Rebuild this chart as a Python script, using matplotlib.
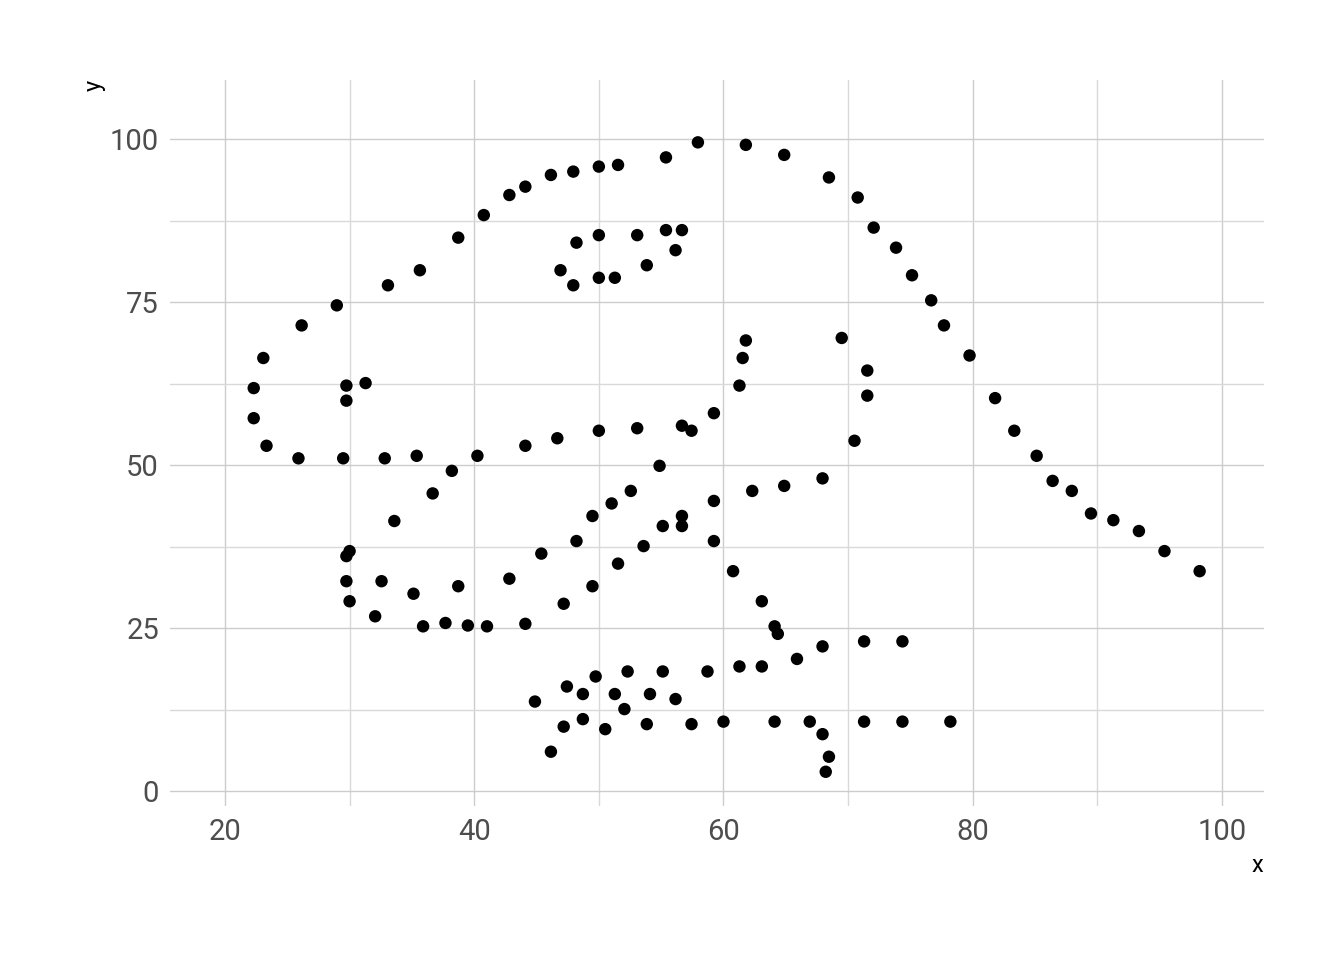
import matplotlib
matplotlib.use("Agg")
import matplotlib.pyplot as plt
import numpy as np

x = [55.3846, 51.5385, 46.1538, 42.8205, 40.7692, 38.7179, 35.641, 33.0769, 28.9744, 26.1538,
     23.0769, 22.3077, 22.3077, 23.3333, 25.8974, 29.4872, 32.8205, 35.3846, 40.2564, 44.1026,
     46.6667, 50.0, 53.0769, 56.6667, 59.2308, 61.2821, 61.5385, 61.7949, 57.4359, 54.8718,
     52.5641, 48.2051, 49.4872, 51.0256, 45.3846, 42.8205, 38.7179, 35.1282, 32.5641, 30.0,
     33.5897, 36.6667, 38.2051, 29.7436, 29.7436, 30.0, 32.0513, 35.8974, 41.0256, 44.1026,
     47.1795, 49.4872, 51.5385, 53.5897, 55.1282, 56.6667, 59.2308, 62.3077, 64.8718, 67.9487,
     70.5128, 71.5385, 71.5385, 69.4872, 46.9231, 48.2051, 50.0, 53.0769, 55.3846, 56.6667,
     56.1538, 53.8462, 51.2821, 50.0, 47.9487, 29.7436, 29.7436, 31.2821, 57.9487, 61.7949,
     64.8718, 68.4615, 70.7692, 72.0513, 73.8462, 75.1282, 76.6667, 77.6923, 79.7436, 81.7949,
     83.3333, 85.1282, 86.4103, 87.9487, 89.4872, 93.3333, 95.3846, 98.2051, 56.6667, 59.2308,
     60.7692, 63.0769, 64.1026, 64.359, 74.359, 71.2821, 67.9487, 65.8974, 63.0769, 61.2821,
     58.7179, 55.1282, 52.3077, 49.7436, 47.4359, 44.8718, 48.7179, 51.2821, 54.1026, 56.1538,
     52.0513, 48.7179, 47.1795, 46.1538, 50.5128, 53.8462, 57.4359, 60.0, 64.1026, 66.9231,
     71.2821, 74.359, 78.2051, 67.9487, 68.4615, 68.2051, 37.6923, 39.4872, 91.2821, 50.0,
     47.9487, 44.1026]
y = [97.1795, 96.0256, 94.4872, 91.4103, 88.3333, 84.8718, 79.8718, 77.5641, 74.4872, 71.4103,
     66.4103, 61.7949, 57.1795, 52.9487, 51.0256, 51.0256, 51.0256, 51.4103, 51.4103, 52.9487,
     54.1026, 55.2564, 55.641, 56.0256, 57.9487, 62.1795, 66.4103, 69.1026, 55.2564, 49.8718,
     46.0256, 38.3333, 42.1795, 44.1026, 36.4103, 32.5641, 31.4103, 30.2564, 32.1795, 36.7949,
     41.4103, 45.641, 49.1026, 36.0256, 32.1795, 29.1026, 26.7949, 25.2564, 25.2564, 25.641,
     28.718, 31.4103, 34.8718, 37.5641, 40.641, 42.1795, 44.4872, 46.0256, 46.7949, 47.9487,
     53.718, 60.641, 64.4872, 69.4872, 79.8718, 84.1026, 85.2564, 85.2564, 86.0256, 86.0256,
     82.9487, 80.641, 78.718, 78.718, 77.5641, 59.8718, 62.1795, 62.5641, 99.4872, 99.1026,
     97.5641, 94.1026, 91.0256, 86.4103, 83.3333, 79.1026, 75.2564, 71.4103, 66.7949, 60.2564,
     55.2564, 51.4103, 47.5641, 46.0256, 42.5641, 39.8718, 36.7949, 33.718, 40.641, 38.3333,
     33.718, 29.1026, 25.2564, 24.1026, 22.9487, 22.9487, 22.1795, 20.2564, 19.1026, 19.1026,
     18.3333, 18.3333, 18.3333, 17.5641, 16.0256, 13.7179, 14.8718, 14.8718, 14.8718, 14.1026,
     12.5641, 11.0256, 9.8718, 6.0256, 9.4872, 10.2564, 10.2564, 10.641, 10.641, 10.641,
     10.641, 10.641, 10.641, 8.718, 5.2564, 2.9487, 25.7692, 25.3846, 41.5385, 95.7692,
     95.0, 92.6923]

x_ticks = [20, 40, 60, 80, 100]
y_ticks = [0, 25, 50, 75, 100]

plt.rcParams['font.family'] = ['Roboto', 'DejaVu Sans']

fig = plt.figure(figsize=(13.44, 9.6), dpi=100)
ax = fig.add_axes([170/1344, 1-806/960, (1264-170)/1344, (806-80)/960])

ax.set_xlim(15.59, 103.37)
ax.set_ylim(-2.30, 109.05)

ax.set_xticks(x_ticks)
ax.set_yticks(y_ticks)
ax.set_xticks([30, 50, 70, 90], minor=True)
ax.set_yticks([12.5, 37.5, 62.5, 87.5], minor=True)

ax.grid(True, which='major', color='#cccccc', linewidth=1.0)
ax.grid(True, which='minor', color='#d9d9d9', linewidth=1.0)
ax.set_axisbelow(True)
for s in ax.spines.values():
    s.set_visible(False)
ax.tick_params(which='both', length=0)
ax.tick_params(axis='x', labelsize=21, labelcolor='#4d4d4d', pad=9)
ax.tick_params(axis='y', labelsize=21, labelcolor='#4d4d4d', pad=8)

ax.scatter(x, y, s=80, color='black', edgecolors='none', zorder=3)

fig.text(1263/1344, 1-865/960, 'x', ha='right', va='center', fontsize=17, color='black')
fig.text(94/1344, 1-80/960, 'y', ha='center', va='top', rotation=90, fontsize=17, color='black')

fig.savefig('out.png', dpi=100, facecolor='white')
